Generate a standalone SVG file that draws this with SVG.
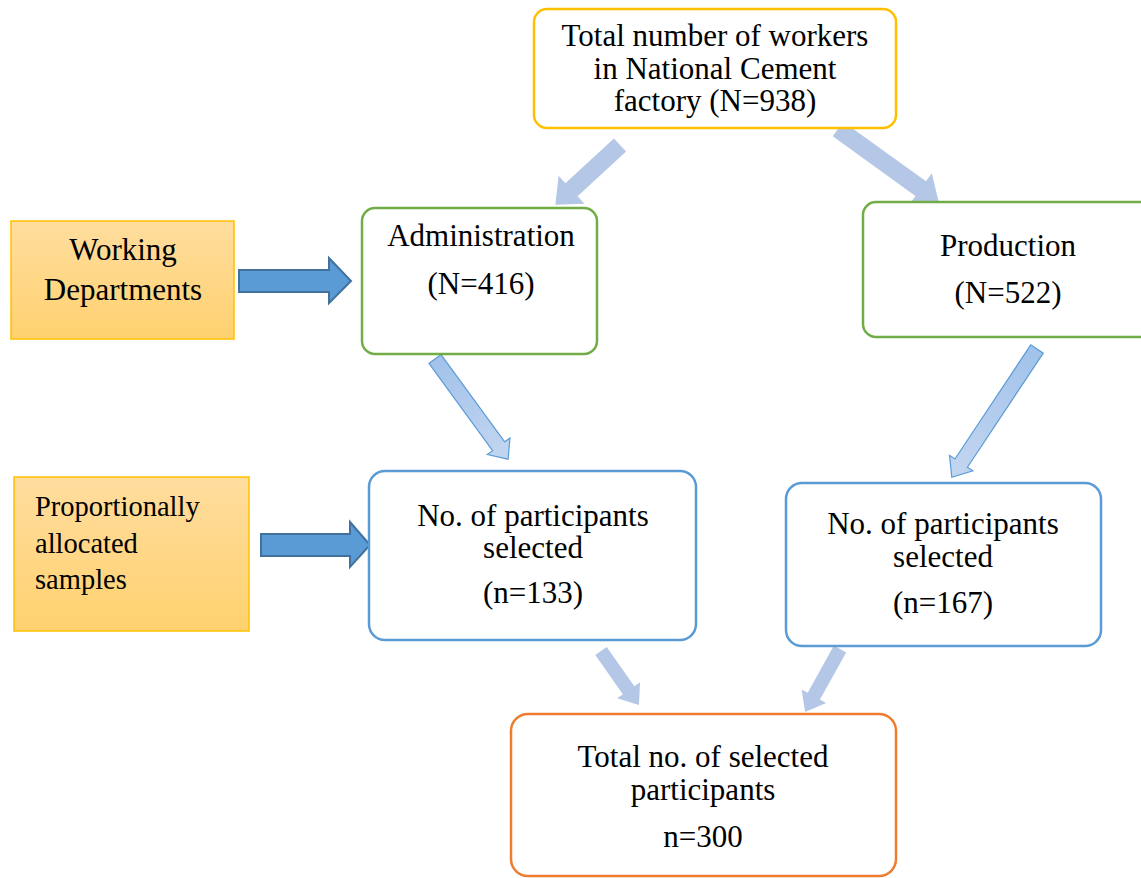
<svg xmlns="http://www.w3.org/2000/svg" width="1141" height="878" viewBox="0 0 1141 878">
<defs>
<linearGradient id="gOr" x1="0" y1="0" x2="0" y2="1">
<stop offset="0" stop-color="#FFDD9E"/>
<stop offset="1" stop-color="#FFD16F"/>
</linearGradient>
<linearGradient id="gBl" x1="0" y1="0" x2="1" y2="0">
<stop offset="0" stop-color="#A2C2EA"/>
<stop offset="1" stop-color="#C3D6F0"/>
</linearGradient>
<style>
.t{font-size:31px;text-anchor:middle;}
.s{font-size:28.5px;}
.box{fill:#fff;stroke-width:2.5;}
.lt{fill:#B4C7E7;stroke:none;}
.ol{fill:url(#gBl);stroke:#5B9BD5;stroke-width:1.2;}
.dk{fill:#5B9BD5;stroke:#41719C;stroke-width:2;}
</style>
</defs>
<rect width="1141" height="878" fill="#fff"/>
<g id="connectors">
<polygon class="lt" transform="translate(620,145) rotate(137.3)" points="0,-9 66,-9 66,-19 88,0 66,19 66,9 0,9"/>
<polygon class="lt" transform="translate(838,129) rotate(35.8)" points="0,-9 102,-9 102,-19 124,0 102,19 102,9 0,9"/>
<polygon class="ol" transform="translate(435,359) rotate(53.9)" points="0,-7.5 108,-7.5 108,-14 124,0 108,14 108,7.5 0,7.5"/>
<polygon class="ol" transform="translate(1037,349) rotate(123.6)" points="0,-7.5 137,-7.5 137,-14 154,0 137,14 137,7.5 0,7.5"/>
<polygon class="lt" transform="translate(601,651) rotate(54.9)" points="0,-7 48,-7 48,-14 66,0 48,14 48,7 0,7"/>
<polygon class="lt" transform="translate(840,649) rotate(119)" points="0,-7 54,-7 54,-14 72,0 54,14 54,7 0,7"/>
<polygon class="dk" points="239,270 329,270 329,258 351,281 329,303 329,292 239,292"/>
<polygon class="dk" points="261,534 350,534 350,522 370,545 350,567 350,556 261,556"/>
</g>
<g font-family="'Liberation Serif', 'Times New Roman', serif" fill="#000">
<g id="node-total">
<rect class="box" x="534" y="9" width="362" height="119" rx="13" stroke="#FFC000"/>
<text class="t" x="715" y="46">Total number of workers</text>
<text class="t" x="715" y="79">in National Cement</text>
<text class="t" x="715" y="111">factory (N=938)</text>
</g>
<g id="node-working">
<rect x="11" y="221" width="223" height="118" fill="url(#gOr)" stroke="#FFC000" stroke-width="1.5"/>
<text class="t" x="123" y="260">Working</text>
<text class="t" x="123" y="300">Departments</text>
</g>
<g id="node-admin">
<rect class="box" x="362" y="208" width="235" height="146" rx="13" stroke="#70AD47"/>
<text class="t" x="481" y="246">Administration</text>
<text class="t" x="481" y="294">(N=416)</text>
</g>
<g id="node-production">
<rect class="box" x="863" y="202" width="300" height="135" rx="13" stroke="#70AD47"/>
<text class="t" x="1008" y="256">Production</text>
<text class="t" x="1008" y="303">(N=522)</text>
</g>
<g id="node-proportional">
<rect x="14" y="477" width="235" height="154" fill="url(#gOr)" stroke="#FFC000" stroke-width="1.5"/>
<text class="s" x="35" y="516">Proportionally</text>
<text class="s" x="35" y="553">allocated</text>
<text class="s" x="35" y="589">samples</text>
</g>
<g id="node-sel-admin">
<rect class="box" x="369" y="471" width="327" height="169" rx="16" stroke="#5B9BD5"/>
<text class="t" x="533" y="526">No. of participants</text>
<text class="t" x="533" y="558">selected</text>
<text class="t" x="533" y="603">(n=133)</text>
</g>
<g id="node-sel-prod">
<rect class="box" x="786" y="483" width="315" height="163" rx="16" stroke="#5B9BD5"/>
<text class="t" x="943" y="534">No. of participants</text>
<text class="t" x="943" y="567">selected</text>
<text class="t" x="943" y="613">(n=167)</text>
</g>
<g id="node-total-selected">
<rect class="box" x="511" y="714" width="385" height="162" rx="17" stroke="#ED7D31"/>
<text class="t" x="703" y="767">Total no. of selected</text>
<text class="t" x="703" y="800">participants</text>
<text class="t" x="703" y="847">n=300</text>
</g>
</g>
</svg>
